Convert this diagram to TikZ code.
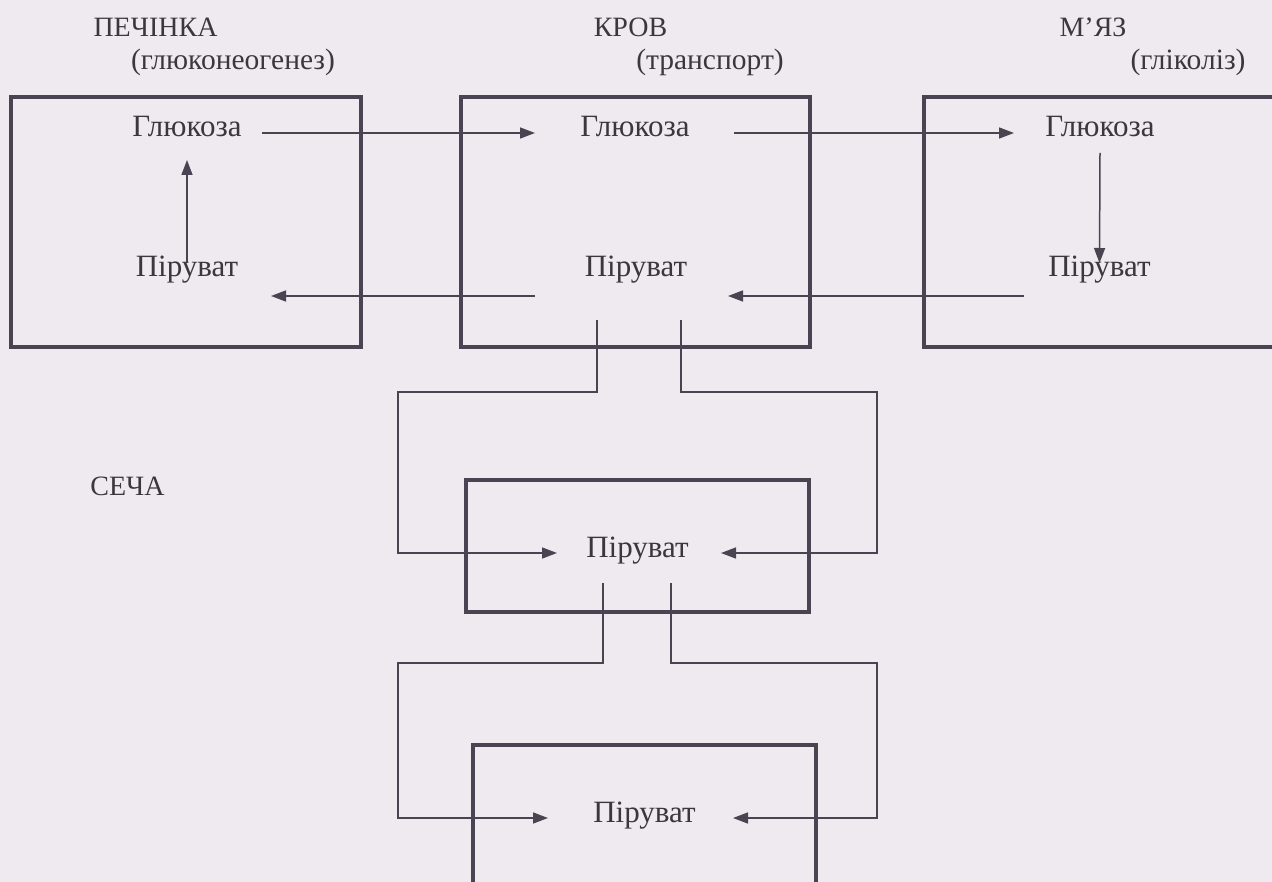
\documentclass[tikz,border=0pt]{standalone}
\usepackage{fontspec}
\setmainfont{Liberation Serif}
\usetikzlibrary{arrows.meta}
\definecolor{paper}{HTML}{EEEAF0}
\definecolor{ink}{HTML}{3A373E}
\definecolor{rule}{HTML}{4A4452}
\begin{document}
\begin{tikzpicture}[x=1pt,y=-1pt,
  box/.style={draw=rule, line width=3.2pt, inner sep=0pt, shape=rectangle},
  wire/.style={draw=rule, line width=1.5pt},
  arr/.style={wire, -{Triangle[length=15pt,width=11pt]}},
  head/.style={anchor=base, inner sep=0pt, text=ink, font=\fontsize{28}{34}\selectfont},
  sub/.style={anchor=base, inner sep=0pt, text=ink, font=\fontsize{29.5}{35}\selectfont},
  term/.style={anchor=base, inner sep=0pt, text=ink, font=\fontsize{31}{37}\selectfont},
]
\useasboundingbox (0,0) rectangle (1272,882);
\fill[paper] (0,0) rectangle (1272,882);
\clip (0,0) rectangle (1272,882);

% compartments
\node[box, minimum width=350pt, minimum height=250pt] (liverbox) at (186,222) {};
\node[box, minimum width=349pt, minimum height=250pt] (bloodbox) at (635.5,222) {};
\node[box, minimum width=376pt, minimum height=250pt] (musclebox) at (1112,222) {};
\node[box, minimum width=343pt, minimum height=132pt] (urinebox) at (637.5,546) {};
\node[box, minimum width=343pt, minimum height=155pt] (lowbox) at (644.5,822.5) {};

% headings
\node[head] (liver) at (155.5,37) {ПЕЧІНКА};
\node[sub] (liversub) at (233,70) {(глюконеогенез)};
\node[head] (blood) at (630.5,37) {КРОВ};
\node[sub] (bloodsub) at (710,70) {(транспорт)};
\node[head] (muscle) at (1093,37) {М’ЯЗ};
\node[sub] (musclesub) at (1188,70) {(гліколіз)};
\node[head] (urine) at (127.5,495) {СЕЧА};

% metabolites
\node[term] (L-glc) at (187,137) {Глюкоза};
\node[term] (L-pyr) at (187,277) {Піруват};
\node[term] (K-glc) at (635,137) {Глюкоза};
\node[term] (K-pyr) at (636,277) {Піруват};
\node[term] (M-glc) at (1100,137) {Глюкоза};
\node[term] (M-pyr) at (1099.5,277) {Піруват};
\node[term] (U-pyr) at (637.5,557) {Піруват};
\node[term] (B-pyr) at (644.5,822) {Піруват};

% arrows
\draw[arr] ([yshift=14pt]L-pyr.base) -- ([yshift=-23pt]L-glc.base);
\draw[arr] ([xshift=75pt,yshift=4pt]L-glc.base) -- ([xshift=-100pt,yshift=4pt]K-glc.base);
\draw[arr] ([xshift=99pt,yshift=4pt]K-glc.base) -- ([xshift=-86pt,yshift=4pt]M-glc.base);
\draw[arr] ([yshift=-16pt]M-glc.base) -- ([yshift=14pt]M-pyr.base);
\draw[arr] ([xshift=-75.5pt,yshift=-19pt]M-pyr.base) -- ([xshift=92pt,yshift=-19pt]K-pyr.base);
\draw[arr] ([xshift=-101pt,yshift=-19pt]K-pyr.base) -- ([xshift=84pt,yshift=-19pt]L-pyr.base);

\draw[arr] ([xshift=-39pt,yshift=-43pt]K-pyr.base) -- ++(0,72) -- ++(-199,0) |- ([xshift=-80.5pt,yshift=4pt]U-pyr.base);
\draw[arr] ([xshift=45pt,yshift=-43pt]K-pyr.base) -- ++(0,72) -- ++(196,0) |- ([xshift=83.5pt,yshift=4pt]U-pyr.base);
\draw[arr] ([xshift=-34.5pt,yshift=-26pt]U-pyr.base) -- ++(0,80) -- ++(-205,0) |- ([xshift=-96.5pt,yshift=4pt]B-pyr.base);
\draw[arr] ([xshift=33.5pt,yshift=-26pt]U-pyr.base) -- ++(0,80) -- ++(206,0) |- ([xshift=88.5pt,yshift=4pt]B-pyr.base);
\end{tikzpicture}
\end{document}
